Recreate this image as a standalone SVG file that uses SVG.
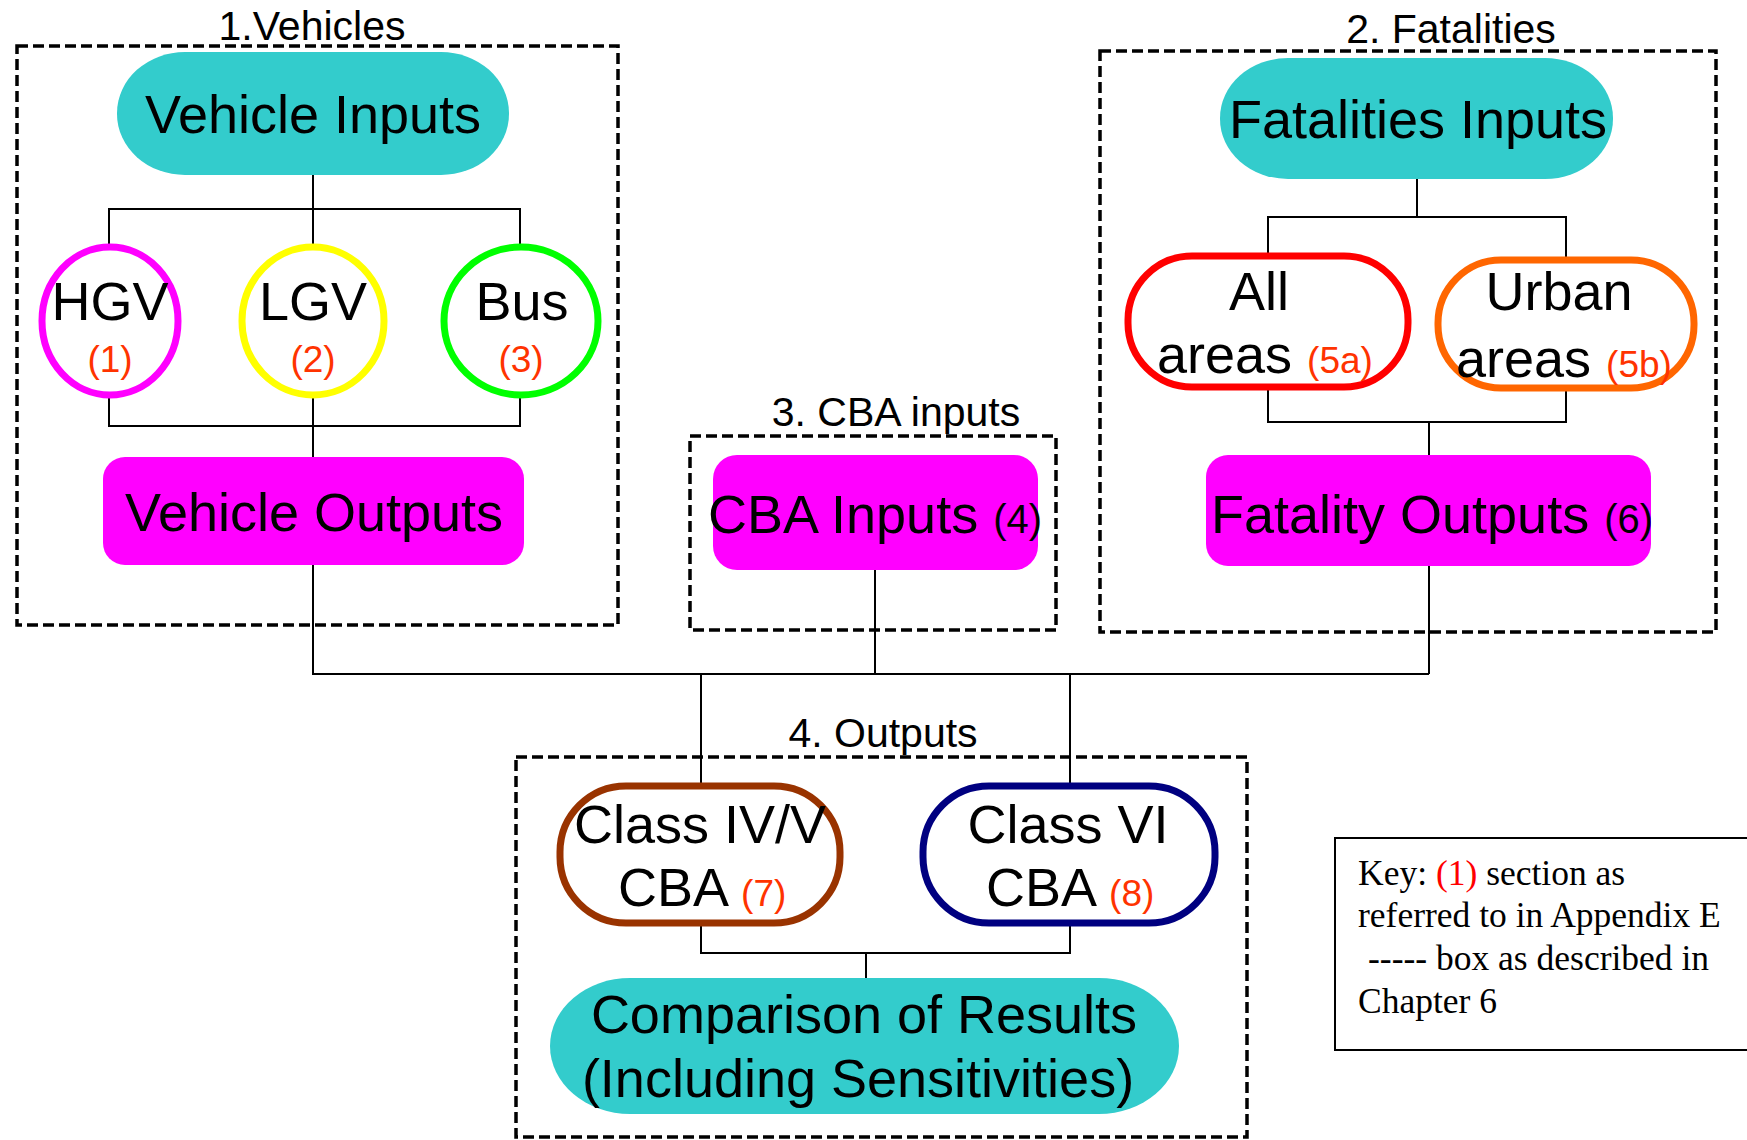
<svg xmlns="http://www.w3.org/2000/svg" width="1747" height="1140" viewBox="0 0 1747 1140">
<style>
.box{fill:none;stroke:#000;stroke-width:3.5;stroke-dasharray:11 5}
.title{font-family:"Liberation Sans",Arial,sans-serif;font-size:41px;fill:#000;text-anchor:middle}
.t{font-family:"Liberation Sans",Arial,sans-serif;font-size:54px;fill:#000}
.c{text-anchor:middle}
.n{font-family:"Liberation Sans",Arial,sans-serif;font-size:37px;fill:#FF3300}
.teal{fill:#33CCCC}
.mag{fill:#FF00FF}
.ring{fill:#fff;stroke-width:7}
.conn{fill:none;stroke:#000;stroke-width:2}
.key{font-family:"Liberation Serif","Times New Roman",serif;font-size:35.5px;fill:#000}
</style>
<rect width="1747" height="1140" fill="#fff"/>

<g id="section-boxes">
<rect class="box" x="17" y="46" width="601" height="579"/>
<text class="title" x="312" y="40">1.Vehicles</text>
<rect class="box" x="1100" y="51" width="616" height="581"/>
<text class="title" x="1451" y="43">2. Fatalities</text>
<rect class="box" x="690" y="436" width="366" height="194"/>
<text class="title" x="896" y="426">3. CBA inputs</text>
<rect class="box" x="516" y="757" width="731" height="380"/>
<text class="title" x="883" y="747">4. Outputs</text>
</g>

<g id="connectors">
<path class="conn" d="M313 175V209M109 247V209H520V247M313 209V247"/>
<path class="conn" d="M109 396V426H520V396M313 396V457"/>
<path class="conn" d="M313 565V674H1429M1429 566V674M875 570V674M701 674V783M1070 674V783"/>
<path class="conn" d="M1417 179V217M1268 254V217H1566V258"/>
<path class="conn" d="M1268 388V422H1566V390M1429 422V455"/>
<path class="conn" d="M701 925V953H1070V925M866 953V978"/>
</g>

<g id="vehicle-inputs">
<rect class="teal" x="117" y="52" width="392" height="123" rx="68" ry="61"/>
<text class="t c" x="313" y="133">Vehicle Inputs</text>
</g>
<g id="hgv">
<ellipse class="ring" cx="110" cy="321" rx="68" ry="74" stroke="#FF00FF"/>
<text class="t c" x="110" y="320">HGV</text>
<text class="n c" x="110" y="372">(1)</text>
</g>
<g id="lgv">
<ellipse class="ring" cx="313" cy="321" rx="71" ry="74" stroke="#FFFF00"/>
<text class="t c" x="313" y="320">LGV</text>
<text class="n c" x="313" y="372">(2)</text>
</g>
<g id="bus">
<ellipse class="ring" cx="521" cy="321" rx="77" ry="74" stroke="#00FF00"/>
<text class="t c" x="522" y="320">Bus</text>
<text class="n c" x="521" y="372">(3)</text>
</g>
<g id="vehicle-outputs">
<rect class="mag" x="103" y="457" width="421" height="108" rx="22"/>
<text class="t c" x="314" y="531">Vehicle Outputs</text>
</g>

<g id="cba-inputs">
<rect class="mag" x="713" y="455" width="325" height="115" rx="24"/>
<text class="t" x="708" y="533">CBA Inputs <tspan font-size="40">(4)</tspan></text>
</g>

<g id="fatalities-inputs">
<rect class="teal" x="1220" y="58" width="393" height="121" rx="68" ry="60"/>
<text class="t c" x="1418" y="138">Fatalities Inputs</text>
</g>
<g id="all-areas">
<rect class="ring" x="1128" y="256" width="280" height="131" rx="64" stroke="#FF0000"/>
<text class="t c" x="1259" y="310">All</text>
<text class="t" x="1157" y="373">areas <tspan class="n" font-size="40" dx="0">(5a)</tspan></text>
</g>
<g id="urban-areas">
<rect class="ring" x="1438" y="260" width="256" height="128" rx="63" stroke="#FF6600"/>
<text class="t c" x="1559" y="310">Urban</text>
<text class="t" x="1456" y="377">areas <tspan class="n" font-size="40" dx="0">(5b)</tspan></text>
</g>
<g id="fatality-outputs">
<rect class="mag" x="1206" y="455" width="445" height="111" rx="22"/>
<text class="t" x="1211" y="533">Fatality Outputs <tspan font-size="40">(6)</tspan></text>
</g>

<g id="class-iv-v">
<rect class="ring" x="560" y="786" width="280" height="137" rx="66" stroke="#993300" stroke-width="7"/>
<text class="t c" x="700" y="843">Class IV/V</text>
<text class="t" x="618" y="906">CBA <tspan class="n" font-size="40" dx="0">(7)</tspan></text>
</g>
<g id="class-vi">
<rect class="ring" x="923" y="786" width="292" height="137" rx="66" stroke="#000080" stroke-width="7"/>
<text class="t c" x="1068" y="843">Class VI</text>
<text class="t" x="986" y="906">CBA <tspan class="n" font-size="40" dx="0">(8)</tspan></text>
</g>
<g id="comparison">
<rect class="teal" x="550" y="978" width="629" height="136" rx="80" ry="68"/>
<text class="t c" x="864" y="1033">Comparison of Results</text>
<text class="t c" x="858" y="1097">(Including Sensitivities)</text>
</g>

<g id="key">
<rect x="1335" y="838" width="430" height="212" fill="#fff" stroke="#000" stroke-width="2"/>
<text class="key" x="1358" y="885">Key: <tspan fill="#FF0000">(1)</tspan> section as</text>
<text class="key" x="1358" y="927">referred to in Appendix E</text>
<text class="key" x="1368" y="970">----- box as described in</text>
<text class="key" x="1358" y="1013">Chapter 6</text>
</g>
</svg>
